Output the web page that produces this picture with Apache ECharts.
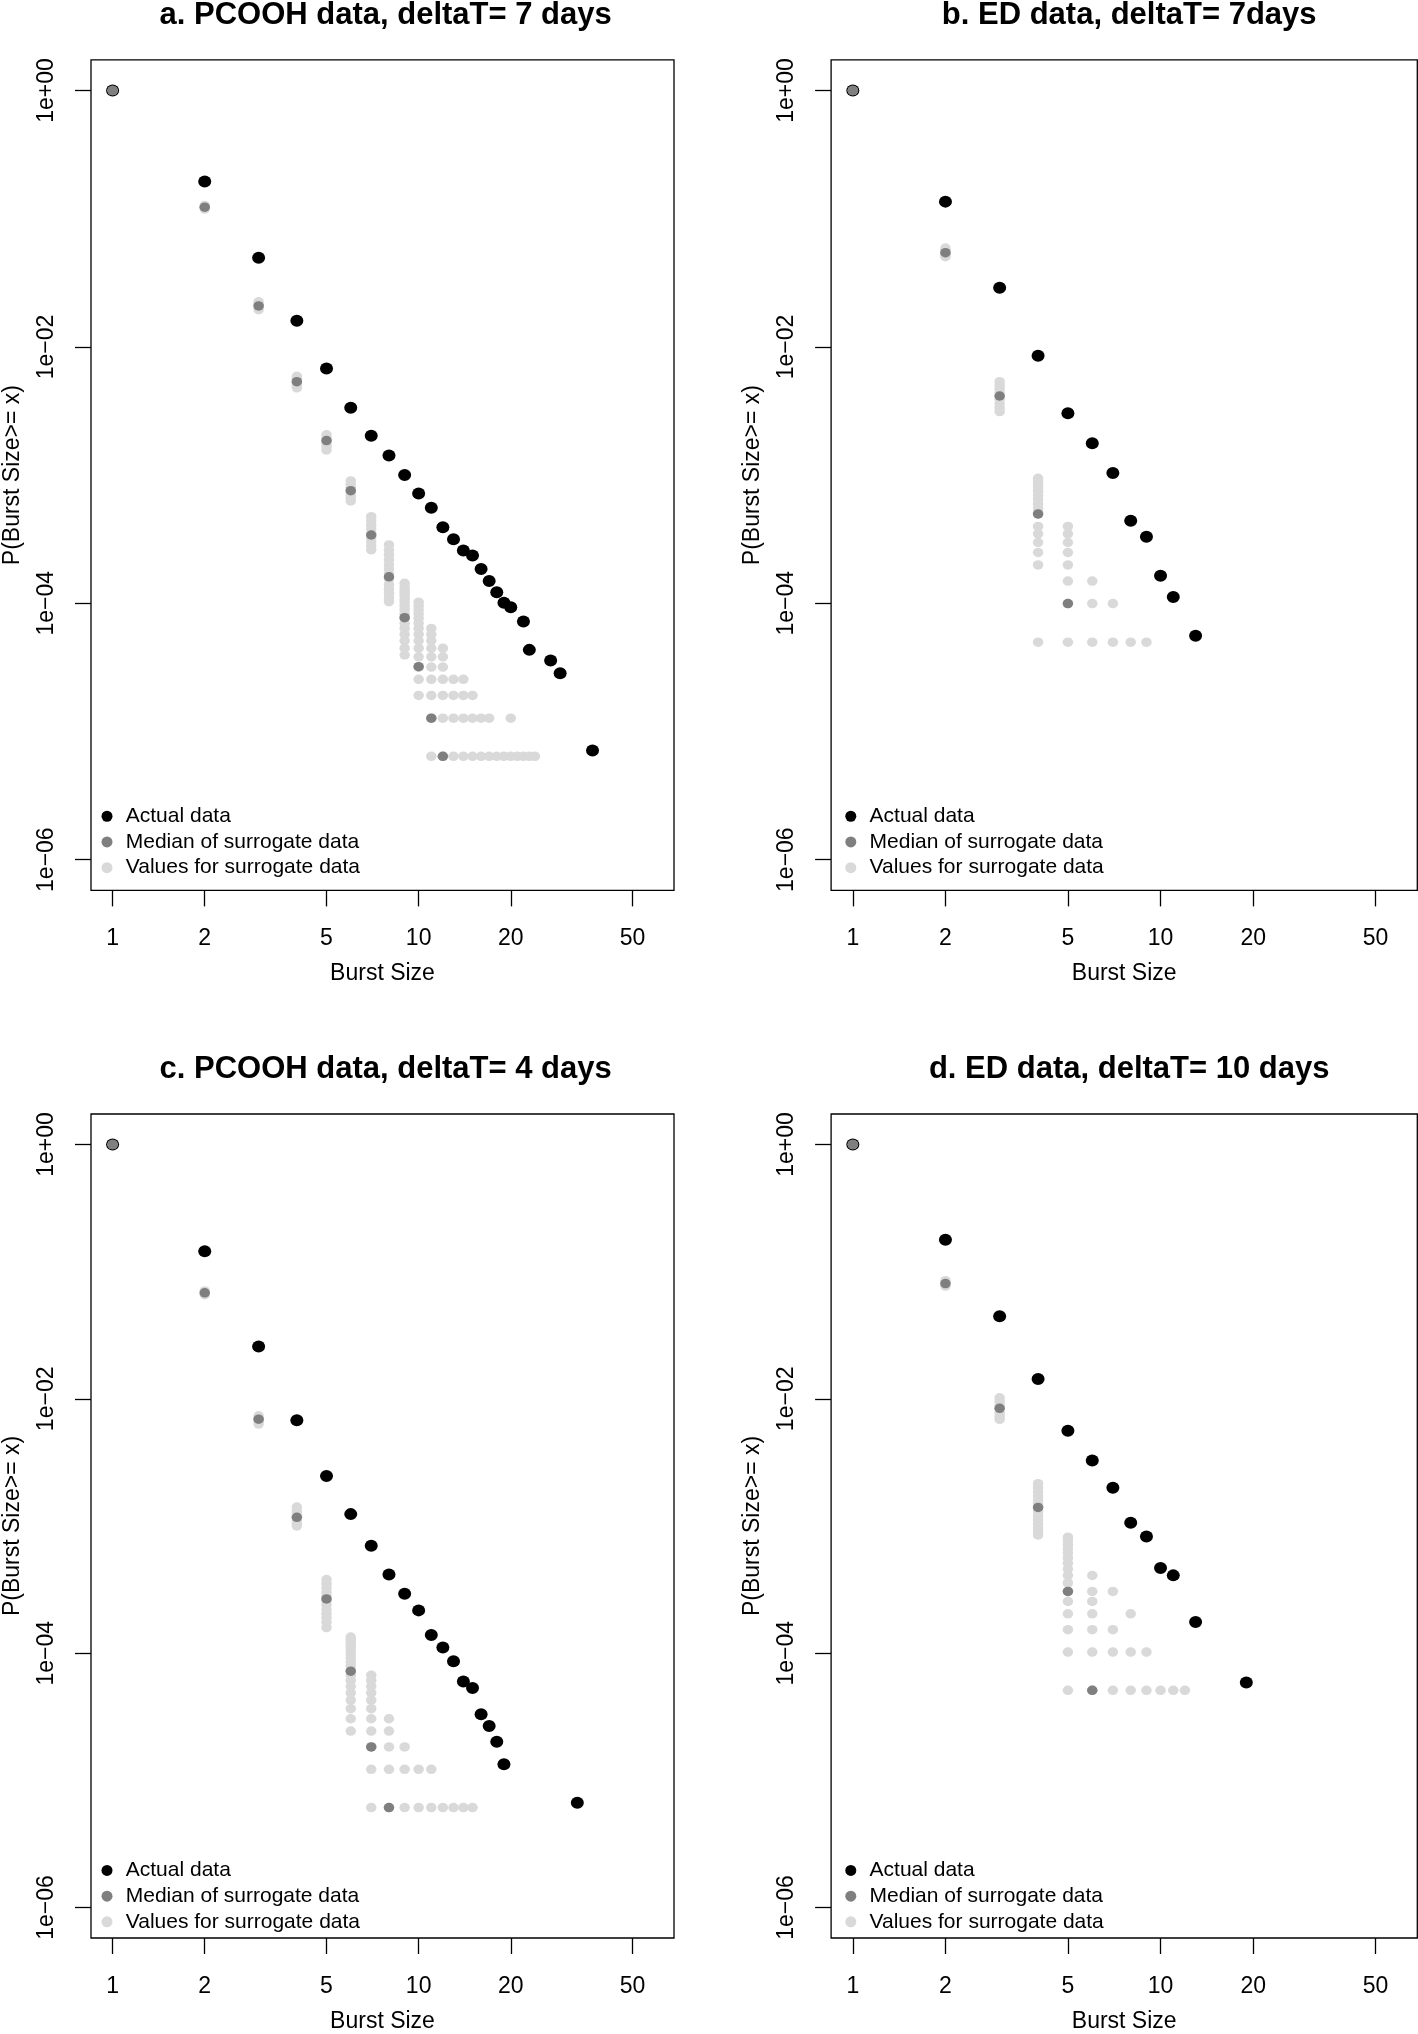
<!DOCTYPE html>
<html>
<head>
<meta charset="utf-8">
<script src="https://cdn.jsdelivr.net/npm/echarts@6/dist/echarts.min.js"></script>
<style>
html,body{margin:0;padding:0;background:#fff;}
#chart{width:1418px;height:2034px;}
</style>
</head>
<body>
<div id="chart"></div>
<script>
// ---------- DATA ----------
const X_TICKS = [1, 2, 5, 10, 20, 50];
const Y_TICKS = [1e-6, 1e-4, 1e-2, 1];
const LEGEND_NAMES = ['Actual data', 'Median of surrogate data', 'Values for surrogate data'];
const TITLES = ['a. PCOOH data, deltaT= 7 days', 'b. ED data, deltaT= 7days',
                'c. PCOOH data, deltaT= 4 days', 'd. ED data, deltaT= 10 days'];

// Panel a
const aActualX = [1,2,3,4,5,6,7,8,9,10,11,12,13,14,15,16,17,18,19,20,22,23,27,29,37];
const aActualY = [1,0.195,0.0497,0.016,0.0068,0.00336,0.00203,0.00142,0.001,7.2e-4,5.57e-4,3.92e-4,3.16e-4,2.58e-4,2.36e-4,1.85e-4,1.49e-4,1.22e-4,1.01e-4,9.3e-5,7.2e-5,4.33e-5,3.57e-5,2.85e-5,7.1e-6];
const aMedianX = [1,2,3,4,5,6,7,8,9,10,11,12];
const aMedianY = [1,0.123,0.0209,0.00536,0.00186,7.56e-4,3.41e-4,1.61e-4,7.72e-5,3.2e-5,1.27e-5,6.4e-6];
const aSurrX = [1,2,3,4,5,6,7,8,9,10,11,12,13,14,15,16,17,18,19,20,21,22,23,24];
const aSurrY = [
  [1],
  [0.127,0.123,0.119],
  [0.0225,0.0215,0.0205,0.0195],
  [0.0059,0.0056,0.0053,0.0050,0.0048],
  [0.00206,0.00195,0.00185,0.00175,0.00166,0.00157],
  [9.0e-4,8.5e-4,8.0e-4,7.5e-4,7.0e-4,6.6e-4,6.28e-4],
  [4.74e-4,4.4e-4,4.1e-4,3.8e-4,3.5e-4,3.25e-4,3.0e-4,2.8e-4,2.61e-4],
  [2.85e-4,2.6e-4,2.4e-4,2.2e-4,2.0e-4,1.85e-4,1.7e-4,1.55e-4,1.4e-4,1.3e-4,1.2e-4,1.1e-4,1.03e-4],
  [1.43e-4,1.34e-4,1.27e-4,1.21e-4,1.15e-4,1.08e-4,1.02e-4,9.55e-5,8.92e-5,8.28e-5,7.64e-5,7.0e-5,6.37e-5,5.73e-5,5.1e-5,4.46e-5,3.95e-5],
  [1.02e-4,9.55e-5,8.92e-5,8.28e-5,7.64e-5,7.0e-5,6.37e-5,5.73e-5,5.1e-5,4.46e-5,3.82e-5,3.18e-5,2.55e-5,1.91e-5],
  [6.37e-5,5.73e-5,5.1e-5,4.46e-5,3.82e-5,3.18e-5,2.55e-5,1.91e-5,1.27e-5,6.4e-6],
  [4.46e-5,3.82e-5,3.18e-5,2.55e-5,1.91e-5,1.27e-5,6.4e-6],
  [2.55e-5,1.91e-5,1.27e-5,6.4e-6],
  [2.55e-5,1.91e-5,1.27e-5,6.4e-6],
  [1.91e-5,1.27e-5,6.4e-6],
  [1.27e-5,6.4e-6],
  [1.27e-5,6.4e-6],
  [6.4e-6],
  [6.4e-6],
  [1.27e-5,6.4e-6],
  [6.4e-6],
  [6.4e-6],
  [6.4e-6],
  [6.4e-6]
];

// Panel b
const bActualX = [1,2,3,4,5,6,7,8,9,10,11,13];
const bActualY = [1,0.136,0.029,0.00855,0.00304,0.00177,0.00104,4.41e-4,3.31e-4,1.64e-4,1.12e-4,5.58e-5];
const bMedianX = [1,2,3,4,5];
const bMedianY = [1,0.0544,0.00414,4.98e-4,9.95e-5];
const bSurrX = [1,2,3,4,5,6,7,8,9];
const bSurrY = [
  [1],
  [0.059,0.0565,0.054,0.052,0.0506],
  [0.00536,0.0050,0.0047,0.0044,0.00414,0.0039,0.0036,0.00335,0.00313],
  [9.44e-4,8.95e-4,8.45e-4,7.95e-4,7.46e-4,6.96e-4,6.46e-4,5.96e-4,5.47e-4,4.97e-4,3.98e-4,3.48e-4,2.98e-4,2.49e-4,1.99e-4,4.97e-5],
  [3.98e-4,3.48e-4,2.98e-4,2.49e-4,1.99e-4,1.49e-4,9.95e-5,4.97e-5],
  [1.49e-4,9.95e-5,4.97e-5],
  [9.95e-5,4.97e-5],
  [4.97e-5],
  [4.97e-5]
];

// Panel c
const cActualX = [1,2,3,4,5,6,7,8,9,10,11,12,13,14,15,16,17,18,19,33];
const cActualY = [1,0.145,0.0258,0.0068,0.00247,0.00124,6.99e-4,4.15e-4,2.93e-4,2.17e-4,1.39e-4,1.11e-4,8.63e-5,5.99e-5,5.31e-5,3.31e-5,2.67e-5,2.01e-5,1.34e-5,6.67e-6];
const cMedianX = [1,2,3,4,5,6,7,8];
const cMedianY = [1,0.0682,0.00692,0.00117,2.67e-4,7.21e-5,1.83e-5,6.1e-6];
const cSurrX = [1,2,3,4,5,6,7,8,9,10,11,12,13,14,15];
const cSurrY = [
  [1],
  [0.0705,0.0682,0.066],
  [0.00735,0.0070,0.00665,0.00633],
  [0.00141,0.00132,0.00124,0.00117,0.0011,0.00104,0.0010],
  [3.79e-4,3.5e-4,3.25e-4,3.0e-4,2.8e-4,2.6e-4,2.4e-4,2.2e-4,2.05e-4,1.9e-4,1.75e-4,1.59e-4],
  [1.34e-4,1.28e-4,1.22e-4,1.16e-4,1.1e-4,1.04e-4,9.76e-5,9.15e-5,8.54e-5,7.93e-5,7.32e-5,6.71e-5,6.1e-5,5.49e-5,4.88e-5,4.27e-5,3.66e-5,3.05e-5,2.44e-5],
  [6.71e-5,6.1e-5,5.49e-5,4.88e-5,4.27e-5,3.66e-5,3.05e-5,2.44e-5,1.83e-5,1.22e-5,6.1e-6],
  [3.05e-5,2.44e-5,1.83e-5,1.22e-5,6.1e-6],
  [1.83e-5,1.22e-5,6.1e-6],
  [1.22e-5,6.1e-6],
  [1.22e-5,6.1e-6],
  [6.1e-6],
  [6.1e-6],
  [6.1e-6],
  [6.1e-6]
];

// Panel d
const dActualX = [1,2,3,4,5,6,7,8,9,10,11,13,19];
const dActualY = [1,0.178,0.0447,0.01435,0.0056,0.00327,0.0020,0.00106,8.26e-4,4.67e-4,4.09e-4,1.76e-4,5.89e-5];
const dMedianX = [1,2,3,4,5,6];
const dMedianY = [1,0.0807,0.00843,0.0014,3.06e-4,5.1e-5];
const dSurrX = [1,2,3,4,5,6,7,8,9,10,11,12];
const dSurrY = [
  [1],
  [0.085,0.081,0.077],
  [0.0102,0.0095,0.0089,0.0084,0.0078,0.0073,0.0069],
  [0.00215,0.0020,0.00185,0.00172,0.0016,0.0015,0.0014,0.0013,0.0012,0.00112,0.00104,9.7e-4,9.1e-4,8.5e-4],
  [8.16e-4,7.65e-4,7.14e-4,6.63e-4,6.12e-4,5.61e-4,5.1e-4,4.59e-4,4.08e-4,3.57e-4,3.06e-4,2.55e-4,2.04e-4,1.53e-4,1.02e-4,5.1e-5],
  [4.08e-4,3.06e-4,2.55e-4,2.04e-4,1.53e-4,1.02e-4,5.1e-5],
  [3.06e-4,1.53e-4,1.02e-4,5.1e-5],
  [2.04e-4,1.02e-4,5.1e-5],
  [1.02e-4,5.1e-5],
  [5.1e-5],
  [5.1e-5],
  [5.1e-5]
];

const PANELS = [
  {ax: aActualX, ay: aActualY, mx: aMedianX, my: aMedianY, sx: aSurrX, sy: aSurrY},
  {ax: bActualX, ay: bActualY, mx: bMedianX, my: bMedianY, sx: bSurrX, sy: bSurrY},
  {ax: cActualX, ay: cActualY, mx: cMedianX, my: cMedianY, sx: cSurrX, sy: cSurrY},
  {ax: dActualX, ay: dActualY, mx: dMedianX, my: dMedianY, sx: dSurrX, sy: dSurrY}
];

// ---------- LAYOUT / STYLE ----------
const FONT = 'Liberation Sans, Arial, Helvetica, sans-serif';
const GRIDS = [
  {left: 87.3, top: 59.8, width: 586.7, height: 830.6},
  {left: 831.1, top: 59.8, width: 586.2, height: 830.6},
  {left: 87.3, top: 1114, width: 586.7, height: 830.6},
  {left: 831.1, top: 1114, width: 586.2, height: 830.6}
];
const X_MIN = 0.85, X_MAX = 68.3;
const Y_MIN = Math.pow(10, -6.24), Y_MAX = Math.pow(10, 0.24);
const C_ACTUAL = '#000000', C_MEDIAN = '#7f7f7f', C_SURR = '#d9d9d9';

function pairs(xs, ys) { return xs.map((x, i) => [x, ys[i]]); }
function colPairs(xs, cols) {
  const out = [];
  xs.forEach((x, i) => cols[i].forEach(y => out.push([x, y])));
  return out;
}
function yLabel(v) {
  const e = Math.round(Math.log10(v));
  return '1e' + (e < 0 ? '\u2212' : '+') + String(Math.abs(e)).padStart(2, '0');
}

const option = {
  animation: false,
  backgroundColor: '#ffffff',
  title: [], grid: [], xAxis: [], yAxis: [], legend: [], series: []
};

GRIDS.forEach((g, i) => {
  const p = PANELS[i];
  option.grid.push({left: g.left, top: g.top, width: g.width, height: g.height,
    show: true, borderColor: '#000', borderWidth: 1.3, backgroundColor: 'transparent', containLabel: false});
  option.title.push({
    text: TITLES[i], left: g.left + g.width / 2, top: g.top - 65, textAlign: 'center',
    textStyle: {fontSize: 31, fontWeight: 'bold', fontFamily: FONT, color: '#000', lineHeight: 31}
  });
  option.xAxis.push({
    gridIndex: i, type: 'log', logBase: 10, min: X_MIN, max: X_MAX,
    axisLine: {show: false},
    axisTick: {show: true, length: 16, customValues: X_TICKS, lineStyle: {color: '#000', width: 1.3}},
    axisLabel: {show: true, customValues: X_TICKS, fontSize: 23, fontFamily: FONT, color: '#000', margin: 37,
      formatter: v => String(Math.round(v))},
    splitLine: {show: false}, minorTick: {show: false},
    name: 'Burst Size', nameLocation: 'middle', nameGap: 72,
    nameTextStyle: {fontSize: 23, fontFamily: FONT, color: '#000'}
  });
  option.yAxis.push({
    gridIndex: i, type: 'log', logBase: 10, min: Y_MIN, max: Y_MAX,
    axisLine: {show: false},
    axisTick: {show: true, length: 16, customValues: Y_TICKS, lineStyle: {color: '#000', width: 1.3}},
    axisLabel: {show: true, customValues: Y_TICKS, rotate: 90, fontSize: 23, fontFamily: FONT, color: '#000', margin: 33,
      formatter: v => yLabel(v)},
    splitLine: {show: false}, minorTick: {show: false},
    name: 'P(Burst Size>= x)', nameLocation: 'middle', nameGap: 67,
    nameTextStyle: {fontSize: 23, fontFamily: FONT, color: '#000'}
  });
  option.legend.push({
    orient: 'vertical', left: g.left + 14.2, top: g.top + g.height - 87, padding: 0,
    itemWidth: 11.5, itemHeight: 11, itemGap: 0, selectedMode: false,
    textStyle: {fontSize: 21, fontFamily: FONT, color: '#000', lineHeight: 25.7, padding: [0, 0, 0, 8]},
    data: LEGEND_NAMES.map(n => ({name: n, icon: 'circle'}))
  });
  option.series.push({
    name: LEGEND_NAMES[0], type: 'scatter', xAxisIndex: i, yAxisIndex: i,
    symbol: 'circle', symbolSize: [13, 12], itemStyle: {color: C_ACTUAL, opacity: 1},
    data: pairs(p.ax, p.ay), z: 2
  });
  option.series.push({
    name: LEGEND_NAMES[2], type: 'scatter', xAxisIndex: i, yAxisIndex: i,
    symbol: 'circle', symbolSize: [10.5, 9.5], itemStyle: {color: C_SURR, opacity: 1},
    data: colPairs(p.sx, p.sy), z: 3
  });
  option.series.push({
    name: LEGEND_NAMES[1], type: 'scatter', xAxisIndex: i, yAxisIndex: i,
    symbol: 'circle', symbolSize: [10.5, 9.5], itemStyle: {color: C_MEDIAN, opacity: 1},
    data: pairs(p.mx, p.my), z: 4
  });
});

const chart = echarts.init(document.getElementById('chart'), null, {renderer: 'canvas', width: 1418, height: 2034});
chart.setOption(option);
</script>
</body>
</html>
